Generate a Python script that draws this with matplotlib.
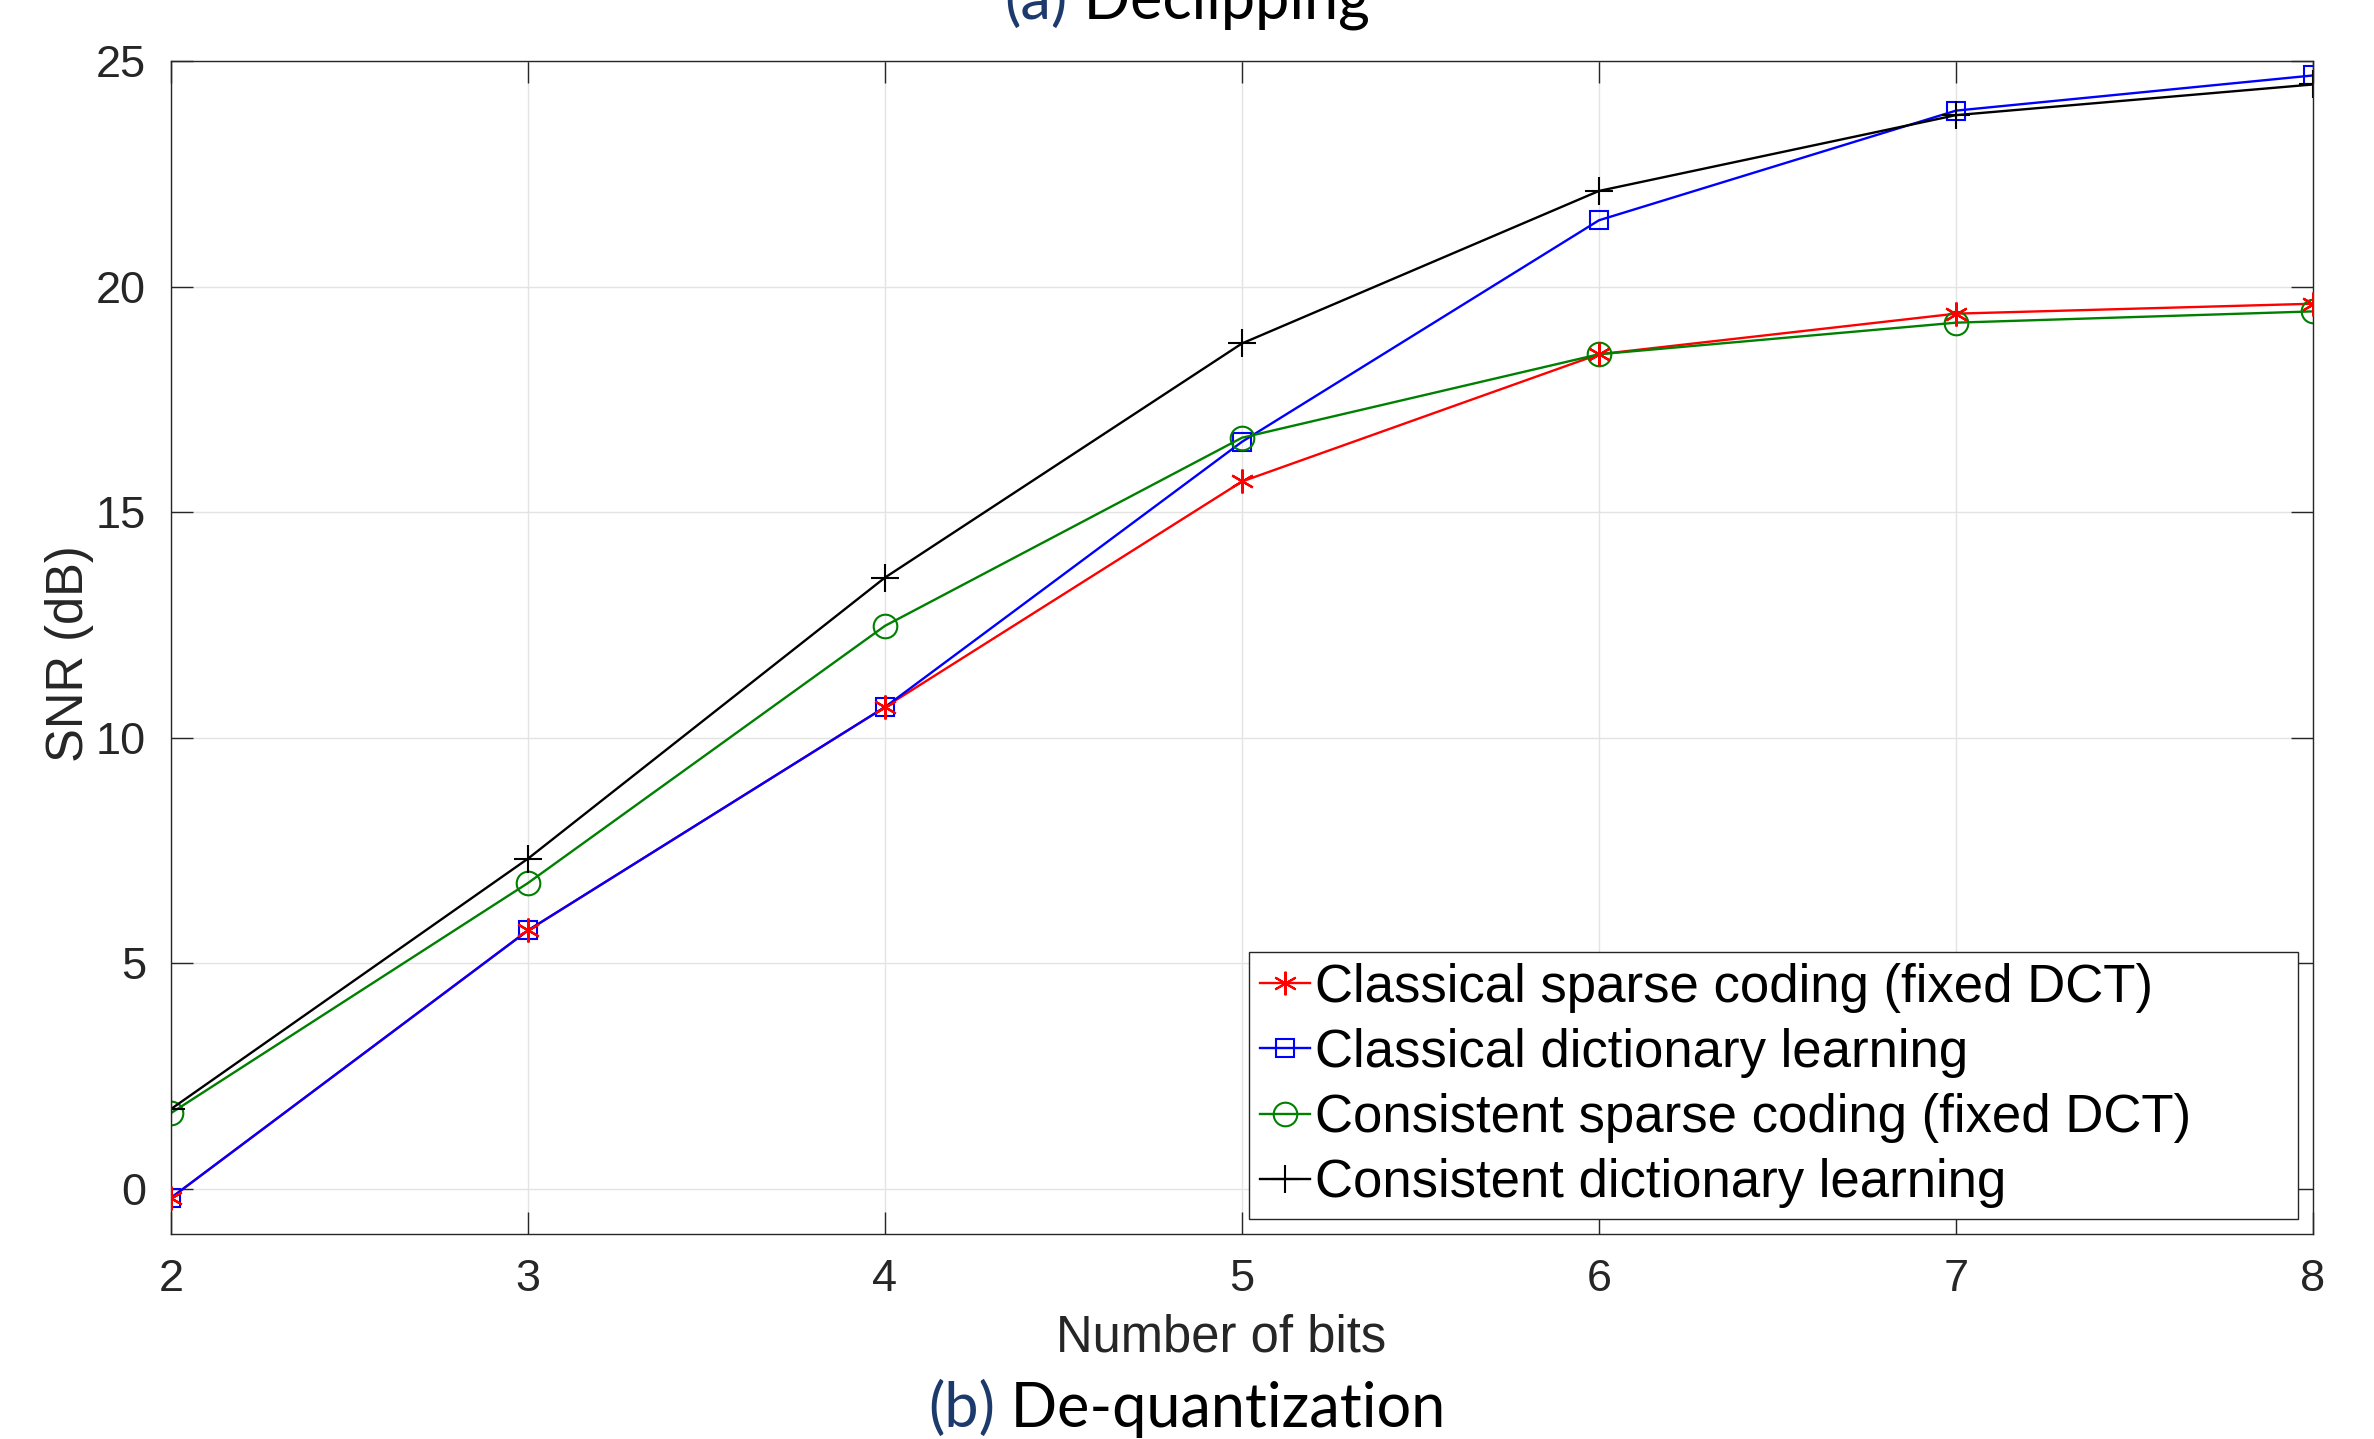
import numpy as np
import matplotlib
matplotlib.use("Agg")
import matplotlib.pyplot as plt

# data
bits = [2, 3, 4, 5, 6, 7, 8]
snr_sparse_classic = [-0.2, 5.73, 10.68, 15.68, 18.5, 19.4, 19.62]
snr_dict_classic = [-0.2, 5.73, 10.68, 16.56, 21.47, 23.9, 24.68]
snr_sparse_consist = [1.68, 6.78, 12.48, 16.65, 18.5, 19.2, 19.45]
snr_dict_consist = [1.77, 7.32, 13.55, 18.74, 22.12, 23.8, 24.48]
labels = ["Classical sparse coding (fixed DCT)",
          "Classical dictionary learning",
          "Consistent sparse coding (fixed DCT)",
          "Consistent dictionary learning"]

W, H = 2374, 1439
fig = plt.figure(figsize=(W / 100, H / 100), dpi=100)
ax = fig.add_axes([171 / W, 1 - 1234 / H, 2142 / W, 1173 / H])

TXT = "#262626"
FONT = "Liberation Sans"
lw = 1.7
mew = 1.5
ax.plot(bits, snr_sparse_classic, color="#ff0000", lw=lw, marker=(6, 2, 0), ms=17, mew=mew, label=labels[0])
ax.plot(bits, snr_dict_classic, color="#0000ff", lw=lw, marker="s", ms=13, mfc="none", mew=mew, label=labels[1])
ax.plot(bits, snr_sparse_consist, color="#008000", lw=lw, marker="o", ms=17, mfc="none", mew=mew, label=labels[2])
ax.plot(bits, snr_dict_consist, color="#000000", lw=lw, marker="+", ms=20, mew=mew, label=labels[3])
# red asterisks sit on top of the blue squares in the original
ax.plot(bits, snr_sparse_classic, ls="none", color="#ff0000", marker=(6, 2, 0), ms=17, mew=mew, zorder=5)

ax.set_xlim(2, 8)
ax.set_ylim(-1, 25)
ax.set_xticks(bits)
ax.set_yticks([0, 5, 10, 15, 20, 25])
ax.grid(True, color="#e3e3e3", lw=1.0)
ax.set_axisbelow(True)
for s in ax.spines.values():
    s.set_color(TXT)
    s.set_linewidth(1.0)
ax.tick_params(direction="in", length=16, width=1.0, top=True, right=True,
               colors=TXT, labelsize=32.5, pad=18)
for t in ax.get_xticklabels() + ax.get_yticklabels():
    t.set_fontfamily(FONT)

fig.text(1221 / W, 1 - 1352 / H, "Number of bits", ha="center", va="baseline",
         fontsize=36.5, color=TXT, family=FONT)
fig.text(70 / W, 1 - 654 / H, "SNR (dB)", ha="center", va="center", rotation=90,
         fontsize=36.5, color=TXT, family=FONT)

leg = ax.legend(loc="lower left", mode="expand",
                bbox_to_anchor=((1249 - 171) / 2142, (1234 - 1219) / 1173, (2298 - 1249) / 2142, 0.2),
                borderaxespad=0, prop={"family": FONT, "size": 38},
                handlelength=0.95, handletextpad=0.1, labelspacing=0.29, borderpad=0.2,
                fancybox=False, framealpha=1, edgecolor=TXT)
leg.get_frame().set_linewidth(1.0)


def caption(tag, body, y_px):
    # two-colour caption: navy tag, black body, centred on the figure
    fig.canvas.draw()
    r = fig.canvas.get_renderer()
    t1 = fig.text(0, 1 - y_px / H, tag, fontsize=44, color="#1d3a6d", family="Lato", va="baseline")
    t2 = fig.text(0, 1 - y_px / H, " " + body, fontsize=44, color="black", family="Lato", va="baseline")
    w1 = t1.get_window_extent(r).width
    w2 = t2.get_window_extent(r).width
    x0 = (W - w1 - w2) / 2
    t1.set_x(x0 / W)
    t2.set_x((x0 + w1) / W)


caption("(a)", "Declipping", 19)
caption("(b)", "De-quantization", 1427)

fig.savefig("out.png", dpi=100)
